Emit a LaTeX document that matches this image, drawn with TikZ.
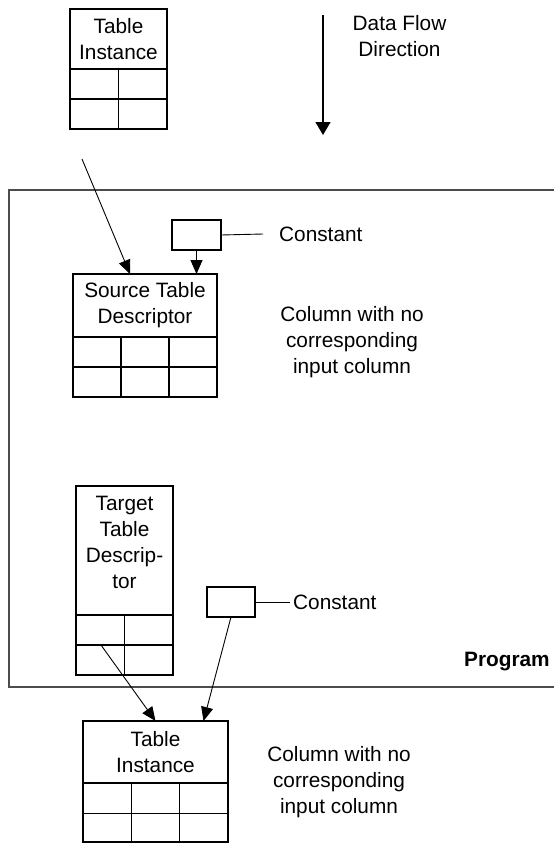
\documentclass[tikz,border=0pt]{standalone}
\usepackage{fontspec}
\setmainfont{Liberation Sans}
\usetikzlibrary{arrows.meta,calc}
\newcommand\fsz{\fontsize{20.8}{26}\selectfont}
\begin{document}
\begin{tikzpicture}[x=1pt,y=-1pt,
  hdr/.style={draw, line width=1.2pt, inner sep=0pt, outer sep=0pt, anchor=north west, align=center, font=\fsz},
  gridbox/.style={draw, line width=1.2pt, inner sep=0pt, outer sep=0pt, anchor=north west},
  gline/.style={line width=1.2pt},
  cbox/.style={draw, line width=1.1pt, inner sep=0pt, outer sep=0pt, anchor=north west, minimum width=49pt, minimum height=30pt},
  txt/.style={align=center, inner sep=0pt, font=\fsz},
  conn/.style={line width=0.9pt},
  arr/.style={conn, -{Triangle[length=14pt,width=12pt]}},
  prog/.style={draw=black!70, line width=1.4pt}
]
\clip (0,0) rectangle (554,844);
\fill[white] (0,0) rectangle (554,844);

% Program frame
\draw[prog] (9,190) rectangle (620,687);
\node[anchor=west, inner sep=0pt, font=\fsz\bfseries] (proglbl) at (464,662) {Program};

% Data flow direction
\coordinate (dfs) at (323,15);
\coordinate (dfe) at (323,135);
\draw[line width=1.2pt, -{Triangle[length=13pt,width=15pt]}] (dfs) -- (dfe);
\node[txt] (dft) at (399.5,36) {Data Flow\\Direction};

% Top table instance
\node[hdr, minimum width=97pt, minimum height=60pt] (ti1) at (70,9) {Table\\Instance};
\node[gridbox, minimum width=97pt, minimum height=60pt] (ti1g) at (70,69) {};
\draw[gline] (ti1g.north) -- (ti1g.south);
\draw[gline] (ti1g.west) -- (ti1g.east);

% Source table descriptor
\node[hdr, minimum width=144pt, minimum height=63pt] (src) at (73,274) {Source Table\\Descriptor};
\node[gridbox, minimum width=144pt, minimum height=60pt] (srcg) at (73,337) {};
\draw[gline] ($(srcg.north west)!1/3!(srcg.north east)$) -- ($(srcg.south west)!1/3!(srcg.south east)$);
\draw[gline] ($(srcg.north west)!2/3!(srcg.north east)$) -- ($(srcg.south west)!2/3!(srcg.south east)$);
\draw[gline] (srcg.west) -- (srcg.east);

% Constant 1
\node[cbox] (cst1) at (172,220) {};
\coordinate (c1e) at (263,234);
\draw[conn] (cst1.east) -- (c1e);
\node[txt, anchor=west] (cst1lbl) at (279,234) {Constant};
\node[txt] (col1) at (352,342.5) {Column with no\\corresponding\\input column};

% Arrows into source
\coordinate (in1) at (82,159);
\draw[arr] (in1) -- ($(src.north)+(-15,0)$);
\draw[arr] (cst1.south) -- (cst1.south |- src.north);

% Target table descriptor
\node[hdr, minimum width=97pt, minimum height=129pt] (tgt) at (76,486) {};
\node[txt] (tgttxt) at (124.5,542.5) {Target\\Table\\Descrip-\\tor};
\node[gridbox, minimum width=97pt, minimum height=60pt] (tgtg) at (76,615) {};
\draw[gline] (tgtg.north) -- (tgtg.south);
\draw[gline] (tgtg.west) -- (tgtg.east);

% Constant 2
\node[cbox, minimum width=48pt] (cst2) at (207,587) {};
\coordinate (c2e) at (290,602);
\draw[conn] (cst2.east) -- (c2e);
\node[txt, anchor=west] (cst2lbl) at (293,602) {Constant};

% Bottom table instance
\node[hdr, minimum width=145pt, minimum height=62pt] (bot) at (83,721) {Table\\Instance};
\node[gridbox, minimum width=145pt, minimum height=59pt] (botg) at (83,783) {};
\draw[gline] ($(botg.north west)!1/3!(botg.north east)$) -- ($(botg.south west)!1/3!(botg.south east)$);
\draw[gline] ($(botg.north west)!2/3!(botg.north east)$) -- ($(botg.south west)!2/3!(botg.south east)$);
\draw[gline] ($(botg.north west)!0.52!(botg.south west)$) -- ($(botg.north east)!0.52!(botg.south east)$);
\node[txt] (col2) at (339,782) {Column with no\\corresponding\\input column};

% Arrows into bottom table
\draw[arr] ($(tgtg.west)+(25,0)$) -- (bot.north);
\draw[arr] (cst2.south) -- ($(bot.north)+(48,0)$);
\end{tikzpicture}
\end{document}
